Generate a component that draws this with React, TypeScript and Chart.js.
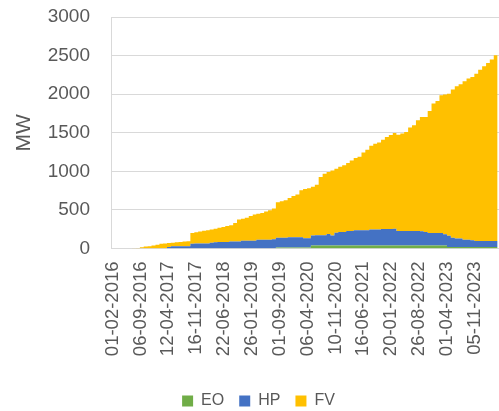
import React, { useEffect, useRef } from "react";
import { Chart, registerables } from "chart.js";
Chart.register(...registerables);

const months = [
  "2016-01","2016-02","2016-03","2016-04","2016-05","2016-06","2016-07","2016-08","2016-09","2016-10","2016-11","2016-12",
  "2017-01","2017-02","2017-03","2017-04","2017-05","2017-06","2017-07","2017-08","2017-09","2017-10","2017-11","2017-12",
  "2018-01","2018-02","2018-03","2018-04","2018-05","2018-06","2018-07","2018-08","2018-09","2018-10","2018-11","2018-12",
  "2019-01","2019-02","2019-03","2019-04","2019-05","2019-06","2019-07","2019-08","2019-09","2019-10","2019-11","2019-12",
  "2020-01","2020-02","2020-03","2020-04","2020-05","2020-06","2020-07","2020-08","2020-09","2020-10","2020-11","2020-12",
  "2021-01","2021-02","2021-03","2021-04","2021-05","2021-06","2021-07","2021-08","2021-09","2021-10","2021-11","2021-12",
  "2022-01","2022-02","2022-03","2022-04","2022-05","2022-06","2022-07","2022-08","2022-09","2022-10","2022-11","2022-12",
  "2023-01","2023-02","2023-03","2023-04","2023-05","2023-06","2023-07","2023-08","2023-09","2023-10","2023-11","2023-12",
  "2024-01","2024-02","2024-03","2024-04","2024-05",
];

const eo = [
  0,0,0,0,0,0,0,0,0,0,0,0,
  0,0,0,0,0,0,0,0,0,0,0,0,
  0,0,0,0,0,0,0,0,0,0,0,0,
  0,0,0,0,0,0,0,12,12,12,12,12,
  12,12,12,12,38,38,38,38,38,38,38,38,
  38,38,38,38,38,38,38,38,38,38,38,38,
  38,38,38,38,38,38,38,38,38,38,38,38,
  38,38,38,20,20,20,20,20,20,20,20,20,
  20,20,20,20,20,
];

const hp = [
  0,0,0,0,0,0,0,0,0,0,0,0,
  0,0,0,20,30,30,30,30,30,60,65,65,
  65,65,75,80,85,85,85,90,90,90,100,100,
  100,100,115,115,115,115,120,126,126,126,133,133,
  133,133,120,120,132,134,134,134,150,132,167,177,
  177,190,190,200,200,200,200,207,207,207,214,214,
  214,217,190,190,190,190,190,190,187,177,164,164,
  164,164,147,145,120,110,110,95,95,88,78,78,
  78,78,78,78,78,
];

const fv = [
  0,0,0,0,0,0,2,5,15,25,30,40,
  50,60,65,50,45,50,55,60,65,140,145,155,
  165,173,170,175,183,195,205,210,240,285,285,297,
  320,340,335,345,365,380,397,462,474,487,510,535,
  555,610,638,650,630,655,755,798,802,842,829,845,
  865,880,914,934,952,1007,1042,1087,1113,1130,1158,1192,
  1218,1241,1246,1262,1282,1339,1369,1434,1480,1490,1580,1676,
  1710,1783,1810,1842,1919,1972,2000,2052,2087,2114,2168,2220,
  2263,2306,2350,2405,2532,
];

const tickLabels = [
  "01-02-2016","06-09-2016","12-04-2017","16-11-2017","22-06-2018","26-01-2019","01-09-2019",
  "06-04-2020","10-11-2020","16-06-2021","20-01-2022","26-08-2022","01-04-2023","05-11-2023",
];

const seriesNames = ["EO", "HP", "FV"];
const seriesColors = ["#70AD47", "#4472C4", "#FFC000"];

const BASE = Date.UTC(2016, 1, 1);
const DAY = 86400000;
const monthToDay = (s: string) => {
  const [y, m] = s.split("-").map(Number);
  return (Date.UTC(y, m - 1, 1) - BASE) / DAY;
};
const labelToDay = (s: string) => {
  const [d, m, y] = s.split("-").map(Number);
  return (Date.UTC(y, m - 1, d) - BASE) / DAY;
};

const TEXT = "#595959";
const GRID = "#D9D9D9";

export default function App() {
  const ref = useRef<HTMLCanvasElement | null>(null);
  useEffect(() => {
    if (!ref.current) return;
    Chart.defaults.font.family = "'Liberation Sans', Arial, sans-serif";
    const series = [eo, hp, fv];
    const chart = new Chart(ref.current, {
      type: "line",
      data: {
        datasets: series.map((vals, i) => ({
          label: seriesNames[i],
          data: vals.map((v, j) => ({ x: monthToDay(months[j]), y: v })),
          backgroundColor: seriesColors[i],
          borderColor: "rgba(0,0,0,0)",
          borderWidth: 0,
          pointRadius: 0,
          stepped: "before" as const,
          fill: i === 0 ? "origin" : "-1",
        })),
      },
      options: {
        animation: false,
        responsive: false,
        maintainAspectRatio: false,
        layout: { padding: { top: 17, left: 0, right: 0, bottom: 0 } },
        plugins: {
          legend: {
            position: "bottom",
            labels: {
              boxWidth: 11,
              boxHeight: 11,
              padding: 15,
              color: TEXT,
              font: { size: 16 },
            },
          },
          tooltip: { enabled: false },
        },
        scales: {
          x: {
            type: "linear",
            min: -13,
            max: 3023,
            afterBuildTicks: (s: any) => {
              s.ticks = tickLabels.map((l) => ({ value: labelToDay(l) }));
            },
            afterFit: (s: any) => {
              s.height = 129.5;
            },
            ticks: {
              autoSkip: false,
              maxRotation: 90,
              minRotation: 90,
              padding: 13,
              color: TEXT,
              font: { size: 18.5 },
              callback: (_v: any, i: number) => tickLabels[i],
            },
            grid: { display: false, drawTicks: false },
            border: { display: true, color: GRID },
          },
          y: {
            stacked: true,
            min: 0,
            max: 3000,
            afterFit: (s: any) => {
              s.width = 111;
              s.paddingTop = 0;
              s.paddingBottom = 0;
            },
            ticks: {
              stepSize: 500,
              padding: 21,
              color: TEXT,
              font: { size: 19 },
              callback: (v: any) => String(v),
            },
            grid: { color: GRID, drawTicks: false },
            border: { display: true, color: GRID },
            title: {
              display: true,
              text: "MW",
              color: TEXT,
              font: { size: 21 },
              padding: { top: 12, bottom: 0 },
            },
          },
          y2: {
            position: "right",
            grid: { display: false, drawTicks: false },
            ticks: { display: false },
            border: { display: false },
            afterFit: (s: any) => {
              s.width = 18;
              s.paddingTop = 0;
              s.paddingBottom = 0;
            },
          },
        },
      } as any,
    });
    return () => chart.destroy();
  }, []);
  return (
    <div style={{ position: "fixed", left: 0, top: 0, width: 499, height: 411, overflow: "hidden", background: "#fff" }}>
      <canvas ref={ref} width={517} height={419} style={{ display: "block" }} />
    </div>
  );
}
